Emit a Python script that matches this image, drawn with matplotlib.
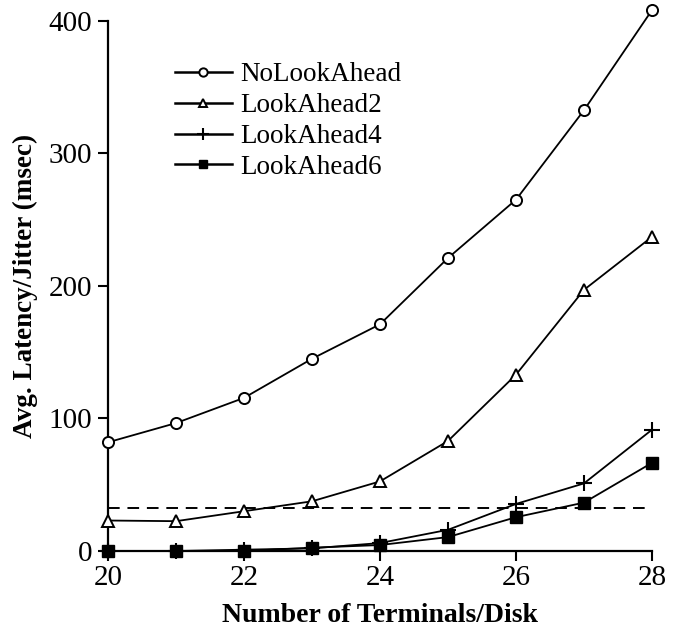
import matplotlib
matplotlib.use("Agg")
import matplotlib.pyplot as plt

terminals = [20, 21, 22, 23, 24, 25, 26, 27, 28]
no_lookahead = [82, 96.5, 115.5, 145, 171, 221, 265, 332.5, 408]
lookahead2 = [23, 22.5, 30, 37.5, 52.5, 83, 133, 197, 237]
lookahead4 = [0, 0, 1, 2, 6, 16, 35.5, 51, 91.5]
lookahead6 = [0, 0, 0, 2.5, 4.5, 10.5, 25.5, 36.5, 66.5]
threshold = 32.5
series_labels = ["NoLookAhead", "LookAhead2", "LookAhead4", "LookAhead6"]
xticks = [20, 22, 24, 26, 28]
yticks = [0, 100, 200, 300, 400]

plt.rcParams['font.family'] = ['Liberation Serif', 'DejaVu Serif']
fig = plt.figure(figsize=(6.8, 6.28), dpi=100)
ax = fig.add_axes([0.1588, 0.1226, 0.8, 0.8444])

lw = 1.3
ax.plot(terminals, no_lookahead, '-', color='black', lw=lw, marker='o', ms=8,
        mfc='white', mec='black', mew=1.4, label=series_labels[0], clip_on=False, zorder=3)
ax.plot(terminals, lookahead2, '-', color='black', lw=lw, marker='^', ms=8.5,
        mfc='white', mec='black', mew=1.4, label=series_labels[1], clip_on=False, zorder=3)
ax.plot(terminals, lookahead4, '-', color='black', lw=lw, marker='+', ms=11,
        mec='black', mew=1.5, label=series_labels[2], clip_on=False, zorder=3)
ax.plot(terminals, lookahead6, '-', color='black', lw=lw, marker='s', ms=8,
        mfc='black', mec='black', label=series_labels[3], clip_on=False, zorder=3)
ax.plot([terminals[0], terminals[-1]], [threshold, threshold], color='black', lw=1.4,
        ls=(0, (6, 4)), zorder=2)

ax.set_xlim(20, 28)
ax.set_ylim(0, 400)
ax.set_xticks(xticks)
ax.set_yticks(yticks)
for s in ['top', 'right']:
    ax.spines[s].set_visible(False)
for s in ['left', 'bottom']:
    ax.spines[s].set_linewidth(1.6)
ax.tick_params(axis='y', direction='out', length=7.5, width=1.5, labelsize=21, pad=4)
ax.tick_params(axis='x', direction='out', length=7, width=1.5, labelsize=21, pad=3)

ax.set_xlabel("Number of Terminals/Disk", fontsize=20, fontweight='bold', labelpad=9)
ax.set_ylabel("Avg. Latency/Jitter (msec)", fontsize=19.5, fontweight='bold')
ax.yaxis.set_label_coords(-0.128, 0.5)

leg = ax.legend(loc='upper left', bbox_to_anchor=(0.123, 0.922), frameon=False,
                fontsize=19.5, handlelength=2.1, handletextpad=0.3, labelspacing=0.22,
                borderaxespad=0, borderpad=0, markerscale=0.75)
for h in leg.legend_handles:
    h.set_linewidth(1.8)

fig.savefig("out.png", dpi=100)
